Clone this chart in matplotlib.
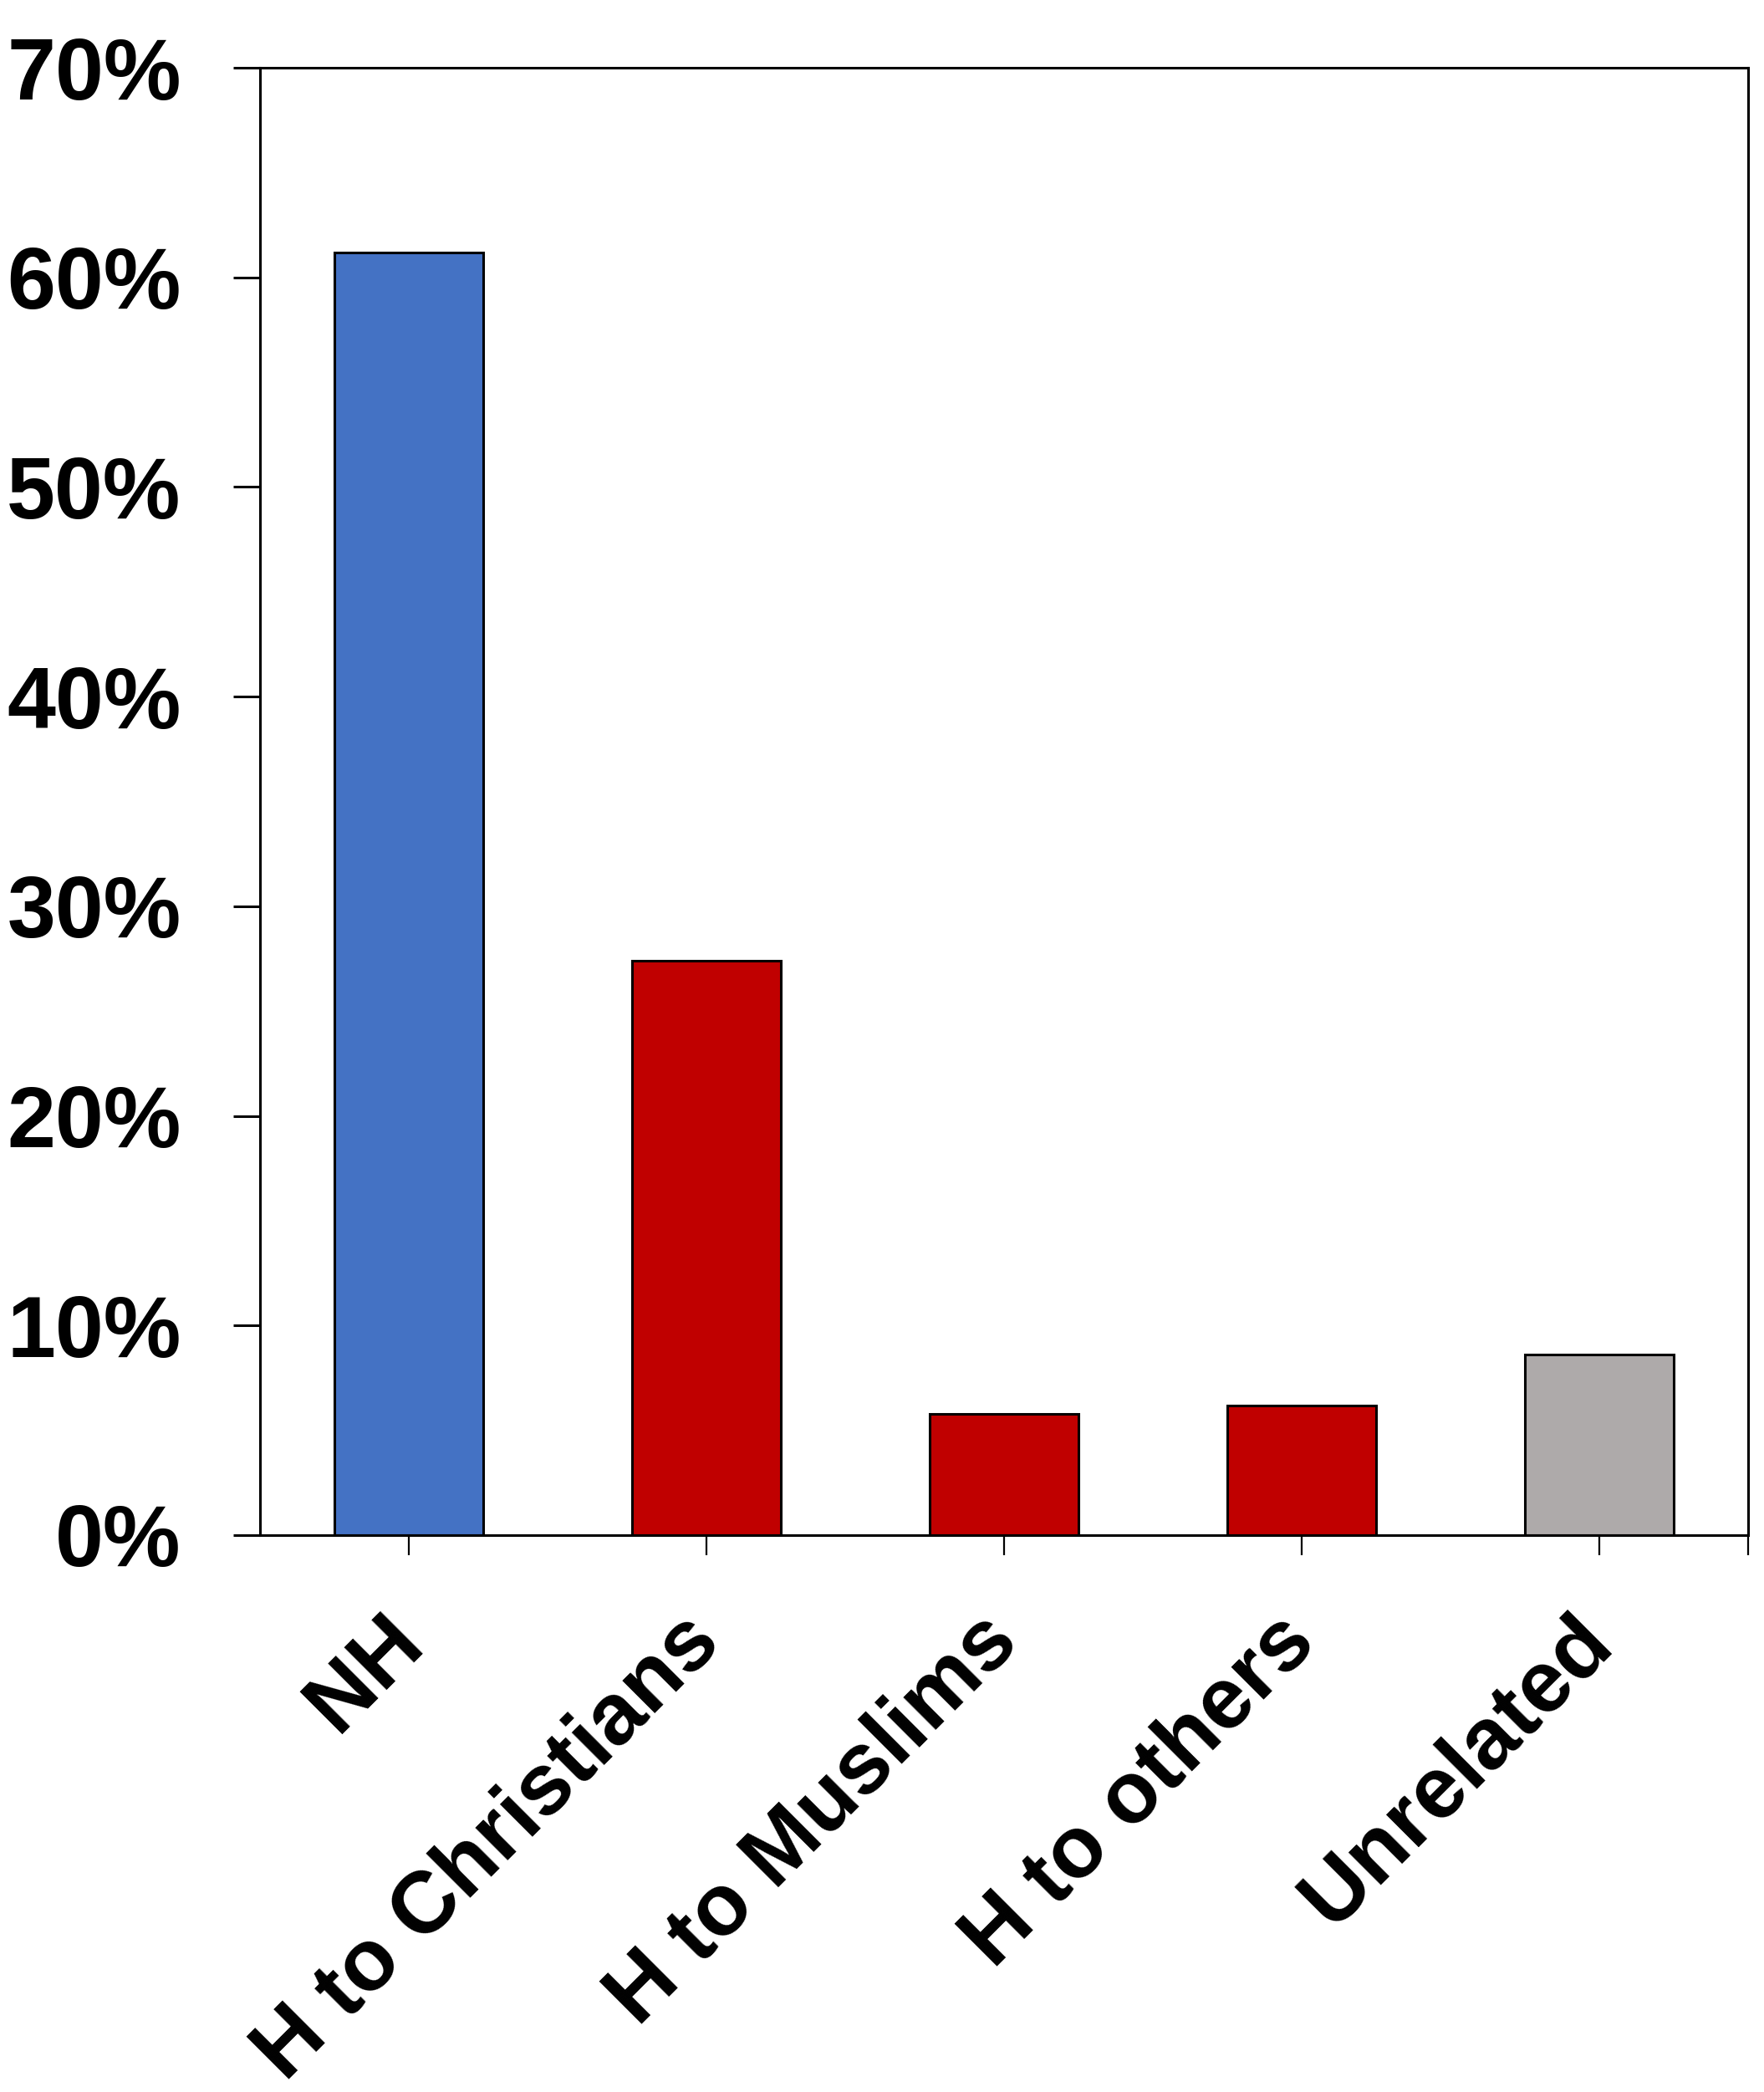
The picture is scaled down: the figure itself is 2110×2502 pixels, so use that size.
import matplotlib.pyplot as plt
import matplotlib.transforms as mtransforms
from matplotlib.ticker import PercentFormatter

categories = ["NH", "H to Christians", "H to Muslims", "H to others", "Unrelated"]
shares = [61.2, 27.4, 5.8, 6.2, 8.6]
bar_colors = ["#4472C4", "#C00000", "#C00000", "#C00000", "#AEAAAA"]
y_ticks = [0, 10, 20, 30, 40, 50, 60, 70]

plt.rcParams['font.family'] = ['Liberation Sans', 'DejaVu Sans']
plt.rcParams['font.weight'] = 'bold'

fig = plt.figure(figsize=(21.1, 25.02), dpi=100)
ax = fig.add_axes([0.1474, 0.2662, 0.991 - 0.1474, 0.9676 - 0.2662])

x = list(range(len(categories)))
ax.bar(x, shares, width=0.5, color=bar_colors, edgecolor='black', linewidth=2.2)

ax.set_xlim(-0.5, 4.5)
ax.set_ylim(0, 70)
ax.set_yticks(y_ticks)
ax.yaxis.set_major_formatter(PercentFormatter(decimals=0))

# ticks at bar centres plus one at the right end of the axis
ax.set_xticks(x + [4.5])
ax.set_xticklabels(categories + [""], rotation=45, ha='right', rotation_mode='anchor')

for s in ax.spines.values():
    s.set_linewidth(2.2)

ax.tick_params(axis='y', length=23, width=2.2, labelsize=75, pad=45)
ax.tick_params(axis='x', length=17, width=1.6, labelsize=75, pad=30)

# nudge the slanted labels a bit left and down
shift = mtransforms.ScaledTranslation(-0.33, -0.13, fig.dpi_scale_trans)
for lab in ax.get_xticklabels():
    lab.set_transform(lab.get_transform() + shift)
for lab in ax.get_xticklabels() + ax.get_yticklabels():
    lab.set_fontweight('bold')

fig.savefig("out.png", dpi=100)
